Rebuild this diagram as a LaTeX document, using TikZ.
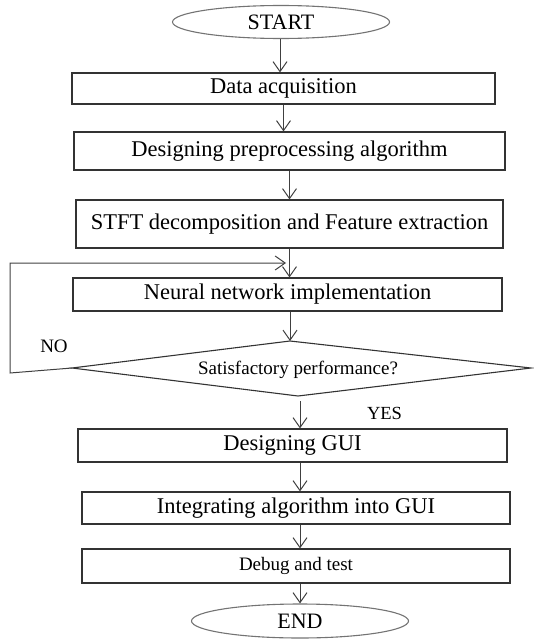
\documentclass[tikz,border=0pt]{standalone}
\usepackage{fontspec}
\setmainfont{Liberation Serif}
\usetikzlibrary{arrows.meta,shapes.geometric}
\begin{document}
\begin{tikzpicture}[x=1pt,y=-1pt,
  box/.style={draw=black!80,line width=1.1pt,rectangle,inner sep=0pt,font=\fontsize{22.5}{26}\selectfont},
  term/.style={draw=black!55,line width=1.1pt,ellipse,inner sep=0pt,font=\fontsize{22}{26}\selectfont},
  arr/.style={draw=black!75,line width=1pt,-{Straight Barb[length=10pt,width=14pt]}},
  lbl/.style={inner sep=0pt,font=\fontsize{19}{22}\selectfont}]
\useasboundingbox (0,0) rectangle (533,642);
\node[term,minimum width=217pt,minimum height=33pt] (start) at (281,22) {START};
\node[box,minimum width=423pt,minimum height=31pt] (data) at (283.5,88.5) {Data acquisition};
\node[box,minimum width=431pt,minimum height=38pt] (prep) at (289.5,151) {Designing preprocessing algorithm};
\node[box,minimum width=427pt,minimum height=48pt] (stft) at (289.5,224) {STFT decomposition and Feature extraction};
\node[box,minimum width=429pt,minimum height=33pt] (neural) at (287.5,294.5) {Neural network implementation};
\coordinate (dT) at (290,341);
\coordinate (dR) at (531,368);
\coordinate (dB) at (298,396);
\coordinate (dL) at (72,368);
\draw[draw=black!80,line width=1.1pt] (dT) -- (dR) -- (dB) -- (dL) -- cycle;
\node[lbl] (dtext) at (298,370) {Satisfactory performance?};
\node[lbl] (no) at (54,346) {NO};
\node[lbl,font=\fontsize{18.5}{22}\selectfont] (yes) at (384.5,413) {YES};
\node[box,minimum width=429pt,minimum height=33pt] (gui) at (292.5,445.5) {Designing GUI};
\node[box,minimum width=428pt,minimum height=32pt] (integ) at (296,508) {Integrating algorithm into GUI};
\node[box,minimum width=428pt,minimum height=34pt,font=\fontsize{19}{22}\selectfont] (debug) at (296,566) {Debug and test};
\node[term,minimum width=217pt,minimum height=34pt] (end) at (300,621) {END};
% arrows
\draw[arr] (280,0 |- start.south) -- (280,0 |- data.north);
\draw[arr] (data.south) -- (data.south |- prep.north);
\draw[arr] (prep.south) -- (prep.south |- stft.north);
\draw[arr] (stft.south) -- (stft.south |- neural.north);
\draw[arr] (dT |- neural.south) -- (dT);
\coordinate (yesstart) at (300,401);
\draw[arr] (yesstart) -- (yesstart |- gui.north);
\draw[arr] (300,0 |- gui.south) -- (300,0 |- integ.north);
\draw[arr] (300,0 |- integ.south) -- (300,0 |- debug.north);
\draw[arr] (300,0 |- debug.south) -- (300,0 |- end.north);
% loop
\coordinate (lb) at (10,373);
\coordinate (lt) at (10,263);
\coordinate (lend) at (286,263);
\draw[arr] (dL) -- (lb) -- (lt) -- (lend);
\end{tikzpicture}
\end{document}
